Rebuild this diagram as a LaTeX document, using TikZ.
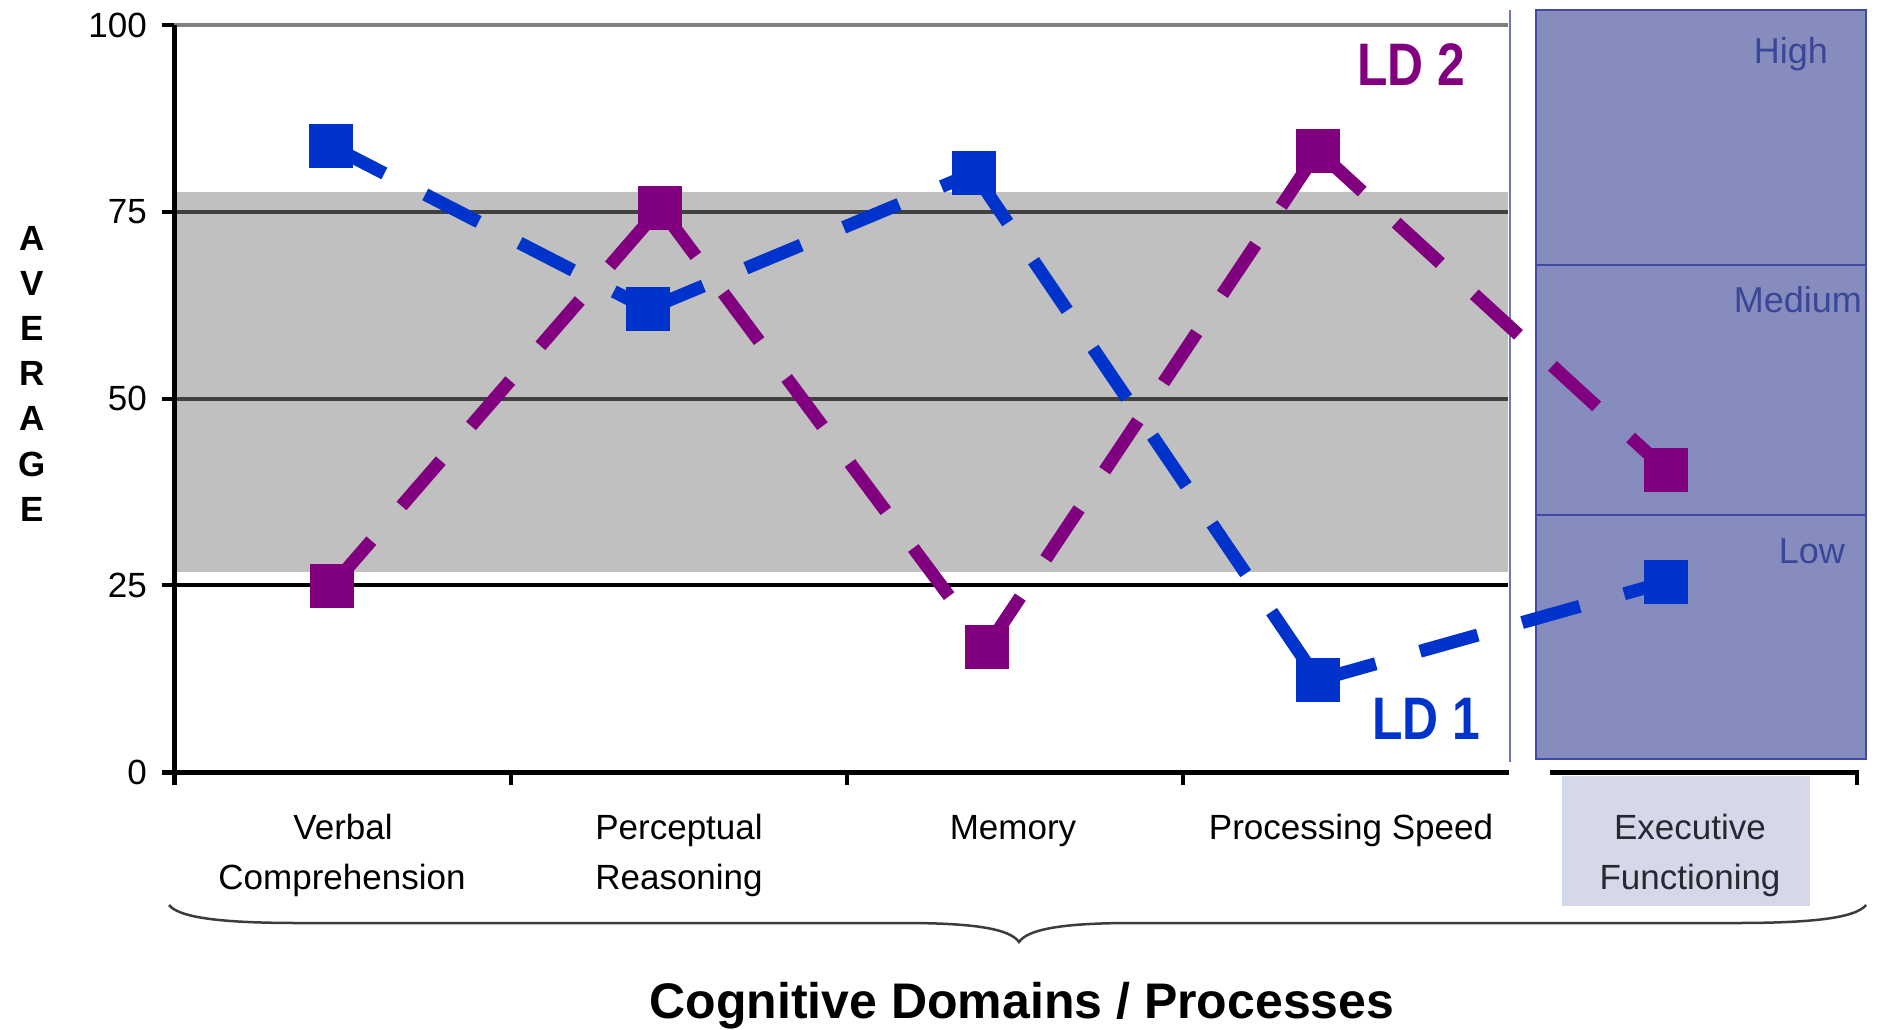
\documentclass[tikz,border=0pt]{standalone}
\usepackage{fontspec}
\setmainfont{Liberation Sans}
\usepackage{graphicx}
\definecolor{ldpurple}{RGB}{128,0,128}
\definecolor{ldblue}{RGB}{0,51,204}
\definecolor{bandgrey}{RGB}{192,192,192}
\definecolor{gridlight}{RGB}{128,128,128}
\definecolor{griddark}{RGB}{64,64,64}
\definecolor{panelfill}{RGB}{134,141,190}
\definecolor{panelborder}{RGB}{64,74,164}
\definecolor{paneltext}{RGB}{58,70,150}
\definecolor{execfill}{RGB}{213,216,232}
\definecolor{bracegrey}{RGB}{60,60,60}
\begin{document}
\begin{tikzpicture}[x=1pt,y=-1pt,
  lab/.style={inner sep=0pt,font=\fontsize{35}{42}\selectfont,text=black},
  tlab/.style={inner sep=0pt,font=\fontsize{35}{42}\selectfont,anchor=east},
  plab/.style={inner sep=0pt,font=\fontsize{36}{42}\selectfont,text=paneltext,anchor=base east},
  avg/.style={inner sep=0pt,font=\fontsize{35}{42}\selectfont\bfseries,anchor=base},
  ldlab/.style={inner sep=0pt,font=\fontsize{60}{60}\selectfont\bfseries,anchor=base},
  seriesline/.style={line width=13pt,dash pattern=on 60pt off 46pt},
  bline/.style={seriesline,draw=ldblue},
  pline/.style={seriesline,draw=ldpurple},
  bmark/.style={rectangle,fill=ldblue,minimum size=44pt,inner sep=0pt},
  pmark/.style={rectangle,fill=ldpurple,minimum size=44pt,inner sep=0pt},
  axisline/.style={line width=5pt,draw=black},
  tick/.style={line width=4pt,draw=black}
]
\useasboundingbox (0,0) rectangle (1877,1029);
\fill[white] (0,0) rectangle (1877,1029);

% grey normal band
\fill[bandgrey] (174,191.5) rectangle (1508,572);

% grid lines
\draw[line width=3.5pt,gridlight] (174,25) -- (1508,25);
\draw[line width=4pt,griddark] (174,212) -- (1508,212);
\draw[line width=4pt,griddark] (174,398.5) -- (1508,398.5);
\draw[line width=4.5pt,black] (174,585) -- (1508,585);

% plot right border
\draw[line width=2pt,panelborder!75] (1510,10) -- (1510,762);

% right panel
\draw[line width=2pt,panelborder,fill=panelfill] (1536,10) rectangle (1866,759);
\draw[line width=2pt,panelborder] (1536,265) -- (1866,265);
\draw[line width=2pt,panelborder] (1536,515) -- (1866,515);
\node[plab] (high) at (1828,63) {High};
\node[plab] (medium) at (1862,312) {Medium};
\node[plab] (low) at (1845,563) {Low};

% executive label background
\fill[execfill] (1562,776) rectangle (1810,906);

% axes
\draw[axisline] (174,25) -- (174,785);
\draw[axisline] (162,772) -- (1509,772);
\draw[axisline] (1550,772) -- (1859,772);
\foreach \yy in {25,212,398.5,585} { \draw[tick] (162,\yy) -- (174,\yy); }
\foreach \xx in {511,847,1183} { \draw[tick] (\xx,772) -- (\xx,785); }
\draw[tick] (1857,772) -- (1857,785);

% y tick labels
\node[tlab] (t100) at (147,25) {100};
\node[tlab] (t75) at (147,212) {75};
\node[tlab] (t50) at (147,398.5) {50};
\node[tlab] (t25) at (147,585) {25};
\node[tlab] (t0) at (147,772) {0};

% AVERAGE
\foreach \ch [count=\i] in {A,V,E,R,A,G,E} {
  \node[avg] (avg\i) at (32,{250+45.2*(\i-1)}) {\ch};
}

% data points
\coordinate (pb1) at (331,146);
\coordinate (pb2) at (648,309);
\coordinate (pb3) at (974,173);
\coordinate (pb4) at (1318,680);
\coordinate (pb5) at (1666,582);
\coordinate (pp1) at (332,586);
\coordinate (pp2) at (660,208);
\coordinate (pp3) at (987,647);
\coordinate (pp4) at (1318,151);
\coordinate (pp5) at (1666,470);

% series lines (pattern restarts at each point)
\draw[pline] (pp1) -- (pp2);
\draw[pline] (pp2) -- (pp3);
\draw[pline] (pp3) -- (pp4);
\draw[pline] (pp4) -- (pp5);
\draw[bline] (pb1) -- (pb2);
\draw[bline] (pb2) -- (pb3);
\draw[bline] (pb3) -- (pb4);
\draw[bline] (pb4) -- (pb5);

% markers
\foreach \i in {1,...,5} { \node[pmark] (p\i) at (pp\i) {}; }
\foreach \i in {1,...,5} { \node[bmark] (b\i) at (pb\i) {}; }

% series labels
\node[ldlab,text=ldpurple] (ld2) at (1411,85) {\scalebox{0.83}[1]{LD 2}};
\node[ldlab,text=ldblue] (ld1) at (1426,739) {\scalebox{0.83}[1]{LD 1}};

% category labels
\node[lab,anchor=base] (vc1) at (343,839) {Verbal};
\node[lab,anchor=base] (vc2) at (342,889) {Comprehension};
\node[lab,anchor=base] (pr1) at (679,839) {Perceptual};
\node[lab,anchor=base] (pr2) at (679,889) {Reasoning};
\node[lab,anchor=base] (mem) at (1013,839) {Memory};
\node[lab,anchor=base] (ps) at (1351,839) {Processing Speed};
\node[lab,anchor=base,text={rgb,255:red,40;green,40;blue,50}] (ef1) at (1690,839) {Executive};
\node[lab,anchor=base,text={rgb,255:red,40;green,40;blue,50}] (ef2) at (1690,889) {Functioning};

% brace
\draw[line width=2.5pt,bracegrey] (169,905) .. controls (180,919) and (230,923) .. (300,923)
  -- (905,923) .. controls (975,923) and (1010,929) .. (1019,942)
  .. controls (1028,929) and (1063,923) .. (1133,923)
  -- (1735,923) .. controls (1805,923) and (1855,919) .. (1866,905);

% title
\node[inner sep=0pt,anchor=base,font=\fontsize{50}{60}\selectfont\bfseries] (title) at (1022,1018) {Cognitive Domains / Processes};
\end{tikzpicture}
\end{document}
